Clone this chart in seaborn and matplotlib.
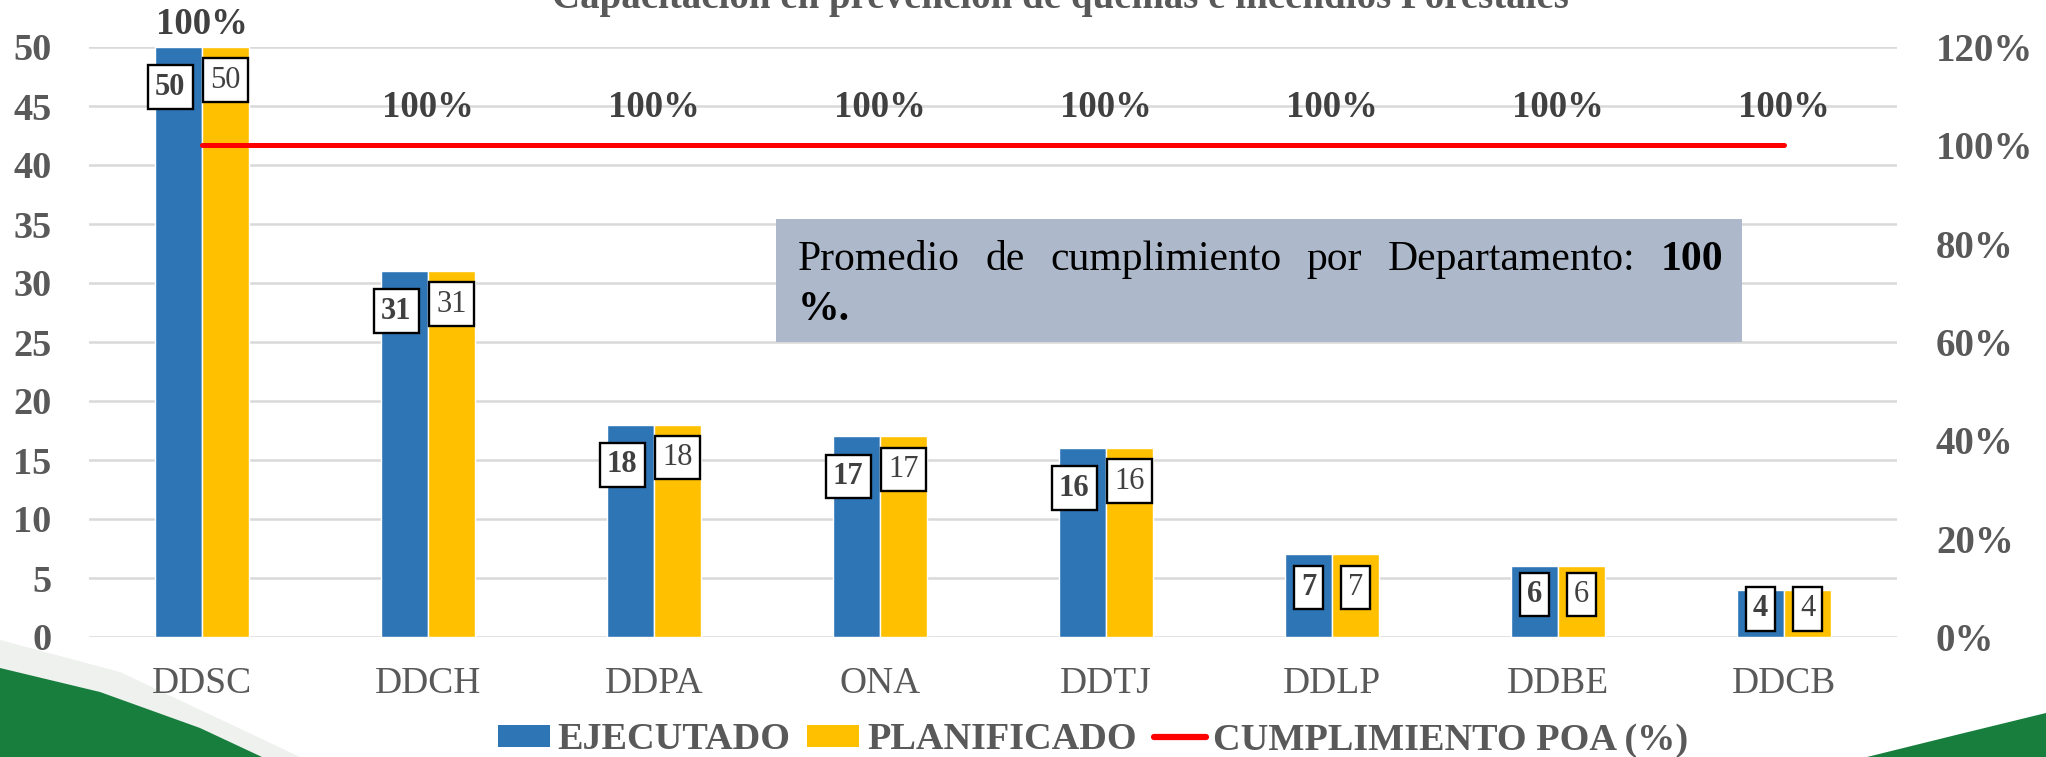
import numpy as np
import pandas as pd
import matplotlib
matplotlib.use("Agg")
import matplotlib.pyplot as plt
from matplotlib.patches import Patch, Polygon, Rectangle
from matplotlib.lines import Line2D
import seaborn as sns

# data
departamentos = ["DDSC", "DDCH", "DDPA", "ONA", "DDTJ", "DDLP", "DDBE", "DDCB"]
ejecutado = [50, 31, 18, 17, 16, 7, 6, 4]
planificado = [50, 31, 18, 17, 16, 7, 6, 4]
cumplimiento = [1.0, 1.0, 1.0, 1.0, 1.0, 1.0, 1.0, 1.0]
series = ["EJECUTADO", "PLANIFICADO", "CUMPLIMIENTO POA (%)"]
titulo = "Capacitación en prevención de quemas e incendios Forestales"
nota_palabras = ["Promedio", "de", "cumplimiento", "por", "Departamento:", "100"]
nota_linea2 = "%."

AZUL = "#2E75B6"
AMARILLO = "#FFC000"
ROJO = "#FF0000"
GRIS = "#595959"
GRIS_OSC = "#404040"
VERDE = "#177E3E"

sns.set_style("white")
plt.rcParams["font.family"] = ["Liberation Serif", "DejaVu Serif"]

W, H = 2046, 757
fig = plt.figure(figsize=(W / 100, H / 100), dpi=100)
fig.patch.set_facecolor("white")


def fx(px):
    return px / W


def fy(py):
    return 1 - py / H


# slide background swooshes
fig.patches.append(Polygon([(fx(0), fy(640)), (fx(120), fy(672)), (fx(300), fy(757)),
                            (fx(0), fy(757))],
                           closed=True, transform=fig.transFigure, fc="#EEF1EE", ec="none", zorder=-2))
fig.patches.append(Polygon([(fx(0), fy(668)), (fx(100), fy(692)), (fx(200), fy(728)),
                            (fx(262), fy(757)), (fx(0), fy(757))],
                           closed=True, transform=fig.transFigure, fc=VERDE, ec="none", zorder=-1))
fig.patches.append(Polygon([(fx(1867), fy(757)), (fx(1960), fy(734)), (fx(2046), fy(713)),
                            (fx(2046), fy(757))],
                           closed=True, transform=fig.transFigure, fc=VERDE, ec="none", zorder=-1))

ax = fig.add_axes([fx(89), fy(637), fx(1897 - 89), (637 - 47) / H])
ax.set_facecolor("none")

df = pd.DataFrame({
    "dep": departamentos * 2,
    "valor": ejecutado + planificado,
    "serie": [series[0]] * len(departamentos) + [series[1]] * len(departamentos),
})
sns.barplot(data=df, x="dep", y="valor", hue="serie", order=departamentos,
            hue_order=series[:2], palette=[AZUL, AMARILLO], width=0.416,
            saturation=1, legend=False, ax=ax, zorder=2)

ax.set_xlim(-0.5, len(departamentos) - 0.5)
ax.set_ylim(0, 50)
ax.set_yticks(np.arange(0, 51, 5))
ax.set_xlabel("")
ax.set_ylabel("")
ax.grid(axis="y", color="#D9D9D9", lw=1.8, zorder=0)
ax.set_axisbelow(True)
for s in ax.spines.values():
    s.set_visible(False)
ax.tick_params(axis="y", length=0, pad=27, labelsize=27.5, labelcolor=GRIS)
ax.tick_params(axis="x", length=0, pad=21, labelsize=27, labelcolor=GRIS)
for t in ax.get_yticklabels():
    t.set_fontweight("bold")

# data labels in boxes
for k, cont in enumerate(ax.containers):
    for bar in cont:
        v = bar.get_height()
        off = min(3.4 if k == 0 else 2.8, 0.4 * v)
        dx = -6 if (k == 0 and v >= 10) else 0
        ax.annotate(f"{v:.0f}", xy=(bar.get_x() + bar.get_width() / 2, v - off),
                    xytext=(dx, 0), textcoords="offset points",
                    ha="center", va="center", fontsize=22, color=GRIS_OSC,
                    fontweight="bold" if k == 0 else "normal", zorder=5,
                    bbox=dict(boxstyle="square,pad=0.24", fc="white", ec="black", lw=1.7))

# compliance line on secondary axis
ax2 = ax.twinx()
ax2.set_facecolor("none")
sns.lineplot(x=np.arange(len(departamentos)), y=cumplimiento, ax=ax2, color=ROJO,
             lw=3.6, zorder=4, solid_capstyle="round")
ax2.set_ylim(0, 1.2)
ax2.set_yticks(np.arange(0, 1.21, 0.2))
ax2.set_yticklabels([f"{t * 100:.0f}%" for t in np.arange(0, 1.21, 0.2)])
ax2.tick_params(axis="y", length=0, pad=28, labelsize=28, labelcolor=GRIS)
for t in ax2.get_yticklabels():
    t.set_fontweight("bold")
for s in ax2.spines.values():
    s.set_visible(False)
ax2.grid(False)

ratio = ax.get_ylim()[1] / ax2.get_ylim()[1]
for i, p in enumerate(cumplimiento):
    top = max(ejecutado[i], planificado[i])
    base = p * ratio
    if top > base:
        ax.annotate(f"{p * 100:.0f}%", xy=(i, top), xytext=(0, 16), textcoords="offset points",
                    ha="center", va="center", fontsize=26.5, fontweight="bold",
                    color=GRIS_OSC, annotation_clip=False, zorder=6)
    else:
        ax.annotate(f"{p * 100:.0f}%", xy=(i, base), xytext=(0, 27), textcoords="offset points",
                    ha="center", va="center", fontsize=26.5, fontweight="bold",
                    color=GRIS_OSC, annotation_clip=False, zorder=6)

# title (cut at the top of the slide, as in the original)
fig.text(fx(1060), fy(8), titulo, ha="center", va="baseline", fontsize=28,
         fontweight="bold", color=GRIS)

# note box
fig.patches.append(Rectangle((fx(776), fy(342)), fx(1742 - 776), (342 - 219) / H,
                             transform=fig.transFigure, fc="#ADB9CA", ec="none", zorder=1))
renderer = fig.canvas.get_renderer()
words = []
for j, w in enumerate(nota_palabras):
    bold = j == len(nota_palabras) - 1
    words.append(fig.text(0, fy(270), w, ha="left", va="baseline", fontsize=30,
                          color="black", fontweight="bold" if bold else "normal", zorder=3))
widths = [t.get_window_extent(renderer).width for t in words]
x0, x1 = 798, 1723
gap = (x1 - x0 - sum(widths)) / (len(words) - 1)
x = x0
for t, wd in zip(words, widths):
    t.set_x(fx(x))
    x += wd + gap
fig.text(fx(798), fy(320), nota_linea2, ha="left", va="baseline", fontsize=30,
         color="black", fontweight="bold", zorder=3)

# legend
handles = [Patch(fc=AZUL, ec="none"), Patch(fc=AMARILLO, ec="none"),
           Line2D([], [], color=ROJO, lw=4.5, solid_capstyle="round")]
fig.legend(handles, series, loc="center", bbox_to_anchor=(fx(1093), fy(740)), ncol=3,
           frameon=False, prop={"family": "Liberation Serif", "weight": "bold", "size": 27.5},
           labelcolor=GRIS, handlelength=1.36, handleheight=0.5, handletextpad=0.2,
           columnspacing=0.45, borderaxespad=0, borderpad=0)

fig.savefig("out.png", dpi=100)
